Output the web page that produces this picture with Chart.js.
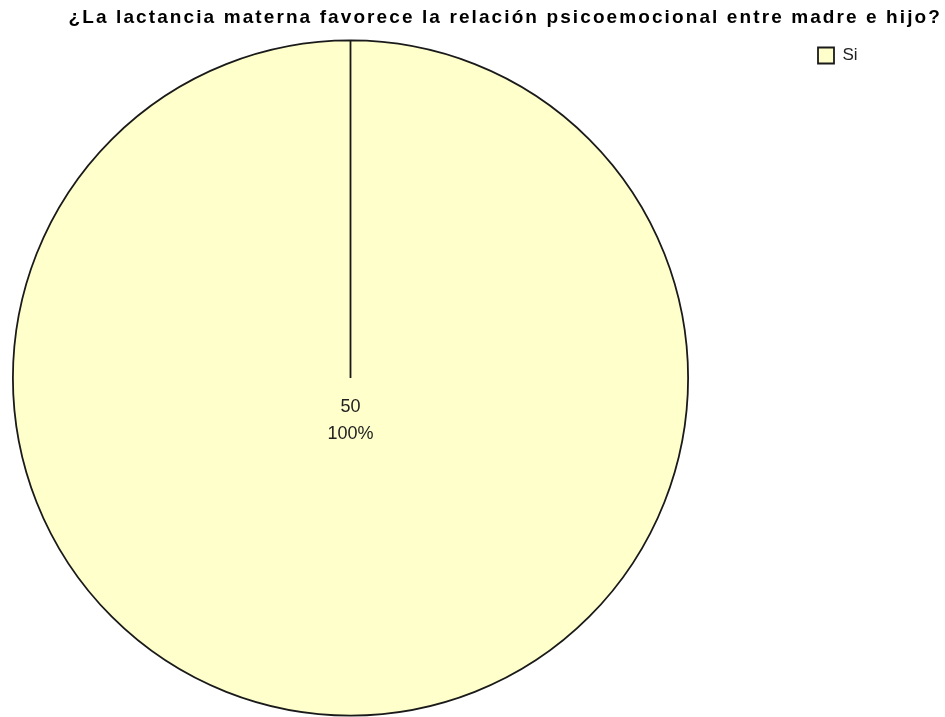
<!DOCTYPE html>
<html>
<head>
<meta charset="utf-8">
<script src="https://cdn.jsdelivr.net/npm/chart.js@4/dist/chart.umd.min.js"></script>
<style>
  html, body { margin: 0; padding: 0; background: #fff; }
  #wrap { width: 945px; height: 717px; position: relative; }
</style>
</head>
<body>
<div id="wrap"><canvas id="pie"></canvas></div>
<script>
const chartTitle = '¿La lactancia materna favorece la relación psicoemocional entre madre e hijo?';
const categories = ['Si'];
const counts = [50];
const sliceColors = ['#ffffcc'];

// pie sits in a square box on the left, legend floats top right
const pieBox = { left: 12, top: 39, right: 689, bottom: 717 };
const legendSpot = { left: 808, top: 37 };
const titleSpacing = '2.1px';

const placeParts = {
    id: 'placeParts',
    afterLayout(chart) {
        Object.assign(chart.chartArea, pieBox);
        chart.chartArea.width = pieBox.right - pieBox.left;
        chart.chartArea.height = pieBox.bottom - pieBox.top;
        const lg = chart.legend;
        if (lg) {
            const w = lg.width, h = lg.height;
            lg.left = legendSpot.left;
            lg.right = legendSpot.left + w;
            lg.top = legendSpot.top;
            lg.bottom = legendSpot.top + h;
        }
        // the heading is drawn a bit wider spaced than the plain font
        const tb = chart.titleBlock;
        if (tb && !tb._spaced) {
            const draw = tb.draw.bind(tb);
            tb.draw = function () {
                chart.ctx.save();
                chart.ctx.letterSpacing = titleSpacing;
                draw();
                chart.ctx.restore();
            };
            tb._spaced = true;
        }
    }
};

// count and percent written at the middle of the slice
const sliceLabels = {
    id: 'sliceLabels',
    afterDatasetsDraw(chart) {
        const ctx = chart.ctx;
        const data = chart.data.datasets[0].data;
        const total = data.reduce((a, b) => a + b, 0);
        chart.getDatasetMeta(0).data.forEach((arc, i) => {
            const pct = Math.round(data[i] / total * 100) + '%';
            ctx.save();
            ctx.fillStyle = '#222';
            ctx.font = '18px "Liberation Sans", Arial, sans-serif';
            ctx.textAlign = 'center';
            ctx.textBaseline = 'middle';
            ctx.fillText(String(data[i]), arc.x, arc.y + 29);
            ctx.fillText(pct, arc.x, arc.y + 56);
            ctx.restore();
        });
    }
};

new Chart(document.getElementById('pie').getContext('2d'), {
    type: 'pie',
    data: {
        labels: categories,
        datasets: [{
            data: counts,
            backgroundColor: sliceColors,
            borderColor: '#1a1a1a',
            borderWidth: 1.8
        }]
    },
    options: {
        responsive: true,
        maintainAspectRatio: false,
        animation: false,
        layout: { padding: { right: 3 } },
        plugins: {
            title: {
                display: true,
                text: chartTitle,
                align: 'end',
                color: '#000',
                font: { family: '"Liberation Sans", Arial, sans-serif', size: 19, weight: 'bold' },
                padding: { top: 6, bottom: 4 }
            },
            legend: {
                display: true,
                position: 'right',
                align: 'start',
                labels: {
                    color: '#222',
                    boxWidth: 16,
                    boxHeight: 16,
                    padding: 10,
                    font: { family: '"Liberation Sans", Arial, sans-serif', size: 17 }
                }
            },
            tooltip: { enabled: false }
        }
    },
    plugins: [placeParts, sliceLabels]
});
</script>
</body>
</html>
